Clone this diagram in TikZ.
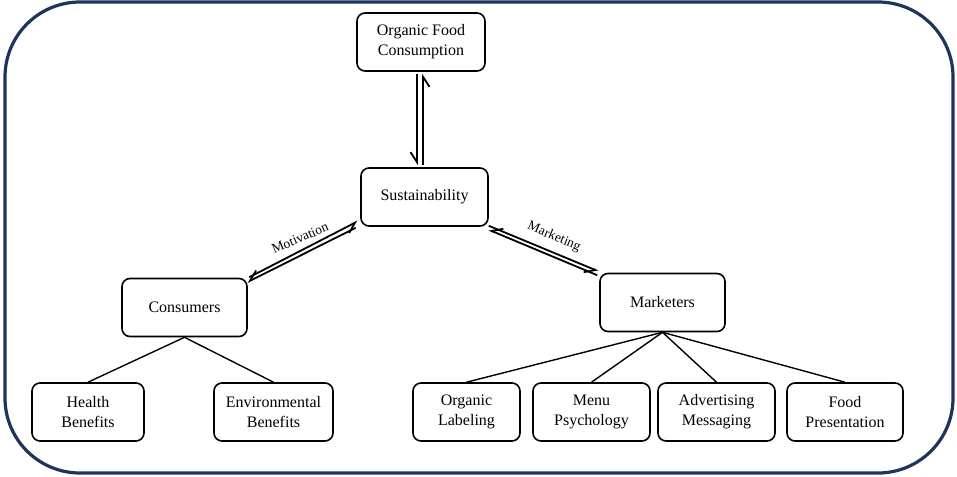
\documentclass[tikz,border=0pt]{standalone}
\usepackage{fontspec}
\setmainfont{Liberation Serif}
\usetikzlibrary{arrows.meta}
\definecolor{frame}{RGB}{30,52,92}
\tikzset{
  box/.style={draw=black, line width=1.6pt, rounded corners=8pt, align=center,
    minimum height=58pt, inner sep=2pt,
    font=\fontsize{16}{20}\selectfont},
  harp/.style={line width=1.8pt,
    -{Straight Barb[right, length=10pt, width=13pt, line width=1.8pt]}},
  link/.style={line width=1.4pt},
  lbl/.style={font=\fontsize{13.5}{16}\selectfont, inner sep=0pt}
}
\begin{document}
\begin{tikzpicture}[x=1pt, y=-1pt]
  \useasboundingbox (0,0) rectangle (957,476);
  % outer frame
  \draw[frame, line width=3.2pt, rounded corners=75pt] (5,2) rectangle (953,473);

  % central chain
  \node[box, minimum width=128pt] (oc)  at (421,42)    {Organic Food\\Consumption};
  \node[box, minimum width=127pt] (sus) at (424.5,197) {Sustainability};
  \node[box, minimum width=125pt] (con) at (184.5,307.5) {Consumers};
  \node[box, minimum width=125pt] (mkt) at (662.5,302.5) {Marketers};

  % consumer motivations
  \node[box, minimum width=112pt] (hb) at (88,412)    {Health\\Benefits};
  \node[box, minimum width=119pt] (eb) at (273.5,412) {Environmental\\Benefits};

  % marketing levers
  \node[box, minimum width=107pt] (ol) at (466.5,412) {Organic\\Labeling};
  \node[box, minimum width=117pt] (mp) at (591.5,412) {Menu\\Psychology};
  \node[box, minimum width=117pt] (am) at (716.5,412) {Advertising\\Messaging};
  \node[box, minimum width=116pt] (fp) at (845,412)   {Food\\Presentation};

  % two-way links
  \draw[harp] ([xshift=-4pt,yshift=-2pt]oc.south) -- ([xshift=-7.5pt,yshift=2pt]sus.north);
  \draw[harp] ([xshift=-1.5pt,yshift=2pt]sus.north) -- ([xshift=2pt,yshift=-2pt]oc.south);

  \draw[harp] ([shift={(-4.5pt,-1pt)}]sus.south west) -- ([shift={(-0.5pt,-4.5pt)}]con.north east);
  \draw[harp] ([shift={(1.5pt,0.5pt)}]con.north east) -- ([shift={(-2.5pt,5.5pt)}]sus.south west);

  \draw[harp] ([shift={(-2pt,-2.5pt)}]mkt.north west) -- ([shift={(0pt,-3pt)}]sus.south east);
  \draw[harp] ([shift={(0pt,1pt)}]sus.south east) -- ([shift={(-1pt,1.5pt)}]mkt.north west);

  \node[lbl, rotate=23]  (motl) at (300,238) {Motivation};
  \node[lbl, rotate=-23] (mktl) at (554,237) {Marketing};

  % tree links
  \draw[link] (con.south) -- (hb.north);
  \draw[link] (con.south) -- (eb.north);
  \draw[link] (mkt.south) -- (ol.north);
  \draw[link] (mkt.south) -- (mp.north);
  \draw[link] (mkt.south) -- (am.north);
  \draw[link] (mkt.south) -- (fp.north);
\end{tikzpicture}
\end{document}
